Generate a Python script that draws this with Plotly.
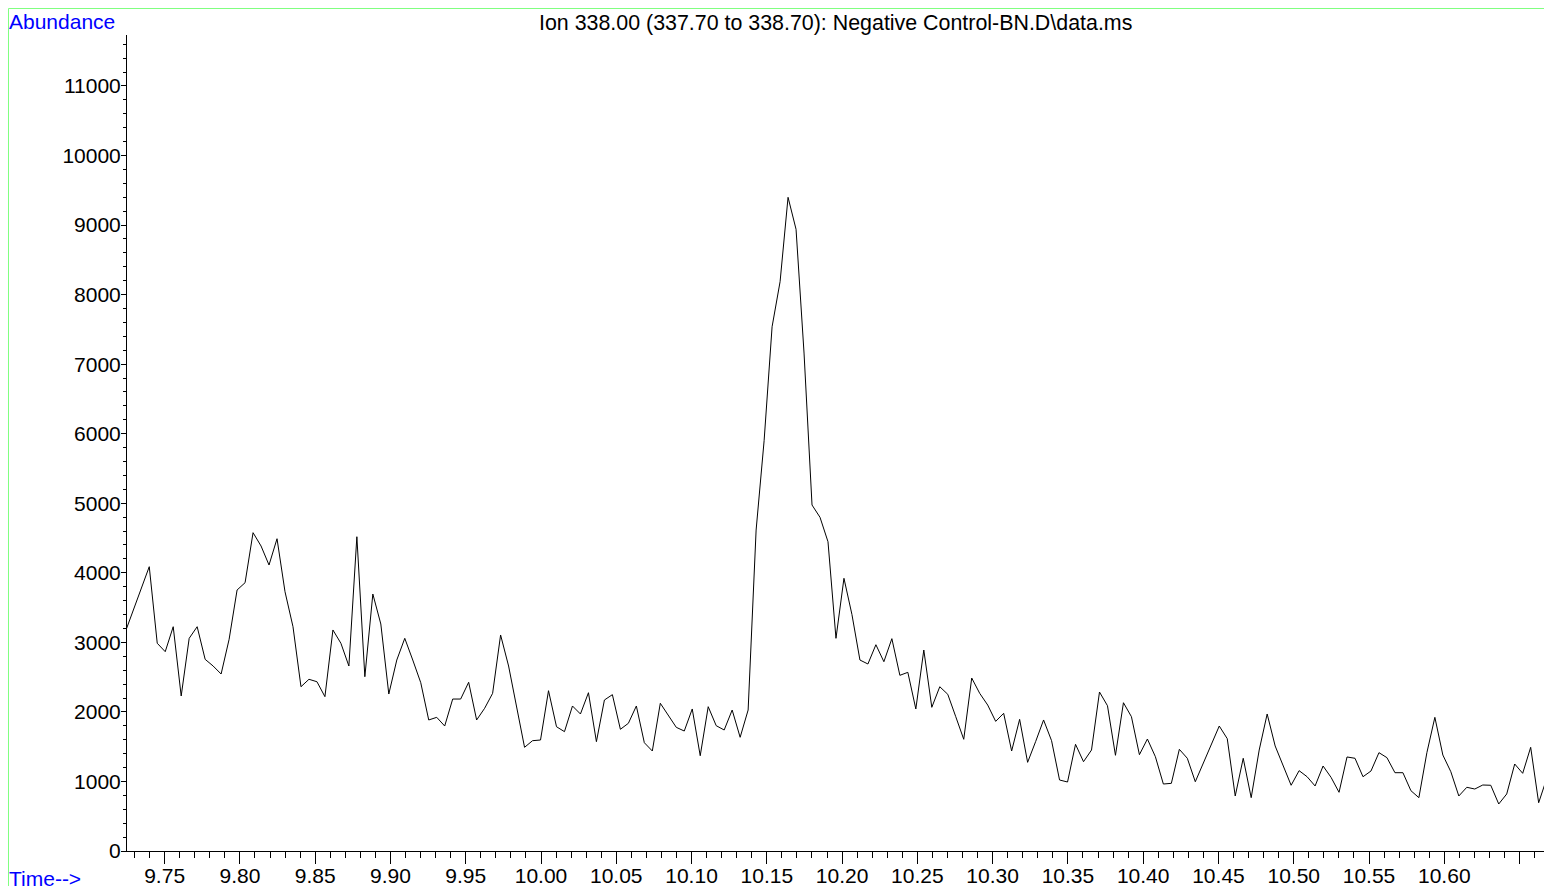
import plotly.graph_objects as go

# ---- data ----
scan_start = 9.72388       # retention time of first scan (min)
scan_interval = 0.005304   # time between scans (min)

abundance = [
    3150, 3453, 3763, 4088, 2987, 2866, 3225, 2229, 3058, 3225,
    2756, 2660, 2545, 3044, 3753, 3858, 4577, 4385, 4112, 4490,
    3728, 3225, 2362, 2469, 2434, 2219, 3178, 2987, 2660, 4519,
    2506, 3695, 3264, 2257, 2746, 3058, 2746, 2420, 1884, 1922,
    1797, 2185, 2185, 2426, 1884, 2052, 2267, 3106, 2660, 2099,
    1491, 1586, 1596, 2305, 1787, 1716, 2085, 1970, 2276, 1572,
    2171, 2248, 1750, 1836, 2085, 1557, 1438, 2124, 1955, 1778,
    1725, 2042, 1370, 2075, 1802, 1740, 2027, 1635, 2027, 4615,
    5900, 7538, 8186, 9399, 8939, 7160, 4975, 4798, 4447, 3058,
    3921, 3400, 2746, 2689, 2966, 2722, 3053, 2526, 2569, 2042,
    2890, 2066, 2362, 2253, 1931, 1606, 2487, 2267, 2099, 1864,
    1980, 1438, 1893, 1275, 1572, 1884, 1586, 1021, 992, 1534,
    1284, 1452, 2286, 2089, 1376, 2132, 1931, 1385, 1610, 1356,
    963, 973, 1462, 1333, 996, 1270, 1548, 1797, 1615, 791,
    1333, 767, 1452, 1970, 1510, 1222, 945, 1155, 1068, 935,
    1222, 1059, 844, 1352, 1333, 1068, 1150, 1414, 1342, 1126,
    1126, 867, 767, 1414, 1922, 1380, 1140, 791, 916, 891,
    949, 945, 676, 820, 1251, 1117, 1491, 694, 1040,
]
times = [scan_start + i * scan_interval for i in range(len(abundance))]

x_tick_vals = [9.75, 9.80, 9.85, 9.90, 9.95, 10.00, 10.05, 10.10, 10.15, 10.20,
               10.25, 10.30, 10.35, 10.40, 10.45, 10.50, 10.55, 10.60, 10.65]
x_tick_text = ["9.75", "9.80", "9.85", "9.90", "9.95", "10.00", "10.05", "10.10",
               "10.15", "10.20", "10.25", "10.30", "10.35", "10.40", "10.45",
               "10.50", "10.55", "10.60", ""]
y_tick_vals = [0, 1000, 2000, 3000, 4000, 5000, 6000, 7000, 8000, 9000, 10000, 11000]
y_tick_text = [str(v) for v in y_tick_vals]

title_text = "Ion 338.00 (337.70 to 338.70): Negative Control-BN.D\\data.ms"

# ---- figure (body margin removed, so figure pixels = page pixels) ----
W, H = 1544, 886
ML, MR, MT, MB = 127, 0, 35, 35
pw, ph = W - ML - MR, H - MT - MB

def px_x(p):
    return (p - ML) / pw

def px_y(p):
    return (H - MB - p) / ph

FONT = "Liberation Sans, Arial, Helvetica, sans-serif"
FS = 21

fig = go.Figure()
fig.add_trace(go.Scatter(x=times, y=abundance, mode="lines",
                         line=dict(color="black", width=1),
                         hoverinfo="x+y", showlegend=False))

fig.update_layout(
    width=W, height=H,
    margin=dict(l=ML, r=MR, t=MT, b=MB, pad=0, autoexpand=False),
    paper_bgcolor="white", plot_bgcolor="white",
    font=dict(family=FONT, size=FS, color="black"),
    showlegend=False,
    xaxis=dict(
        range=[9.72501, 10.66623],
        automargin=False,
        tickmode="array", tickvals=x_tick_vals, ticktext=x_tick_text,
        ticks="outside", ticklen=12, tickwidth=1, tickcolor="black",
        ticklabelstandoff=-6,
        showline=True, linecolor="black", linewidth=1,
        showgrid=False, zeroline=False,
        tickfont=dict(family=FONT, size=FS, color="black"),
        minor=dict(dtick=0.01, tick0=9.75, ticks="outside", ticklen=6,
                   tickwidth=1, tickcolor="black", showgrid=False),
    ),
    yaxis=dict(
        range=[0, 11733],
        automargin=False,
        tickmode="array", tickvals=y_tick_vals, ticktext=y_tick_text,
        ticks="outside", ticklen=5, tickwidth=1, tickcolor="black",
        ticklabelstandoff=-4,
        showline=True, linecolor="black", linewidth=1,
        showgrid=False, zeroline=False,
        tickfont=dict(family=FONT, size=FS, color="black"),
        minor=dict(dtick=200, tick0=0, ticks="outside", ticklen=3,
                   tickwidth=1, tickcolor="black", showgrid=False),
    ),
)

# light green frame
green = "#80FF80"
fig.add_shape(type="line", xref="paper", yref="paper",
              x0=px_x(8.5), x1=px_x(W), y0=px_y(8.5), y1=px_y(8.5),
              line=dict(color=green, width=1))
fig.add_shape(type="line", xref="paper", yref="paper",
              x0=px_x(8.5), x1=px_x(8.5), y0=px_y(8.5), y1=px_y(H),
              line=dict(color=green, width=1))

fig.add_annotation(text=title_text, xref="paper", yref="paper",
                   x=px_x(835), y=px_y(23), xanchor="center", yanchor="middle",
                   showarrow=False, font=dict(family=FONT, size=21.4, color="black"))
fig.add_annotation(text="Abundance", xref="paper", yref="paper",
                   x=px_x(7), y=px_y(21), xanchor="left", yanchor="middle",
                   showarrow=False, font=dict(family=FONT, size=FS, color="#0000FF"))
fig.add_annotation(text="Time-->", xref="paper", yref="paper",
                   x=px_x(7), y=px_y(878), xanchor="left", yanchor="middle",
                   showarrow=False, font=dict(family=FONT, size=FS, color="#0000FF"))

fig.write_html(
    "out.html",
    config={"displayModeBar": False},
    post_script="document.documentElement.style.overflow='hidden';"
                "document.body.style.overflow='hidden';"
                "document.body.style.margin='0';",
)
